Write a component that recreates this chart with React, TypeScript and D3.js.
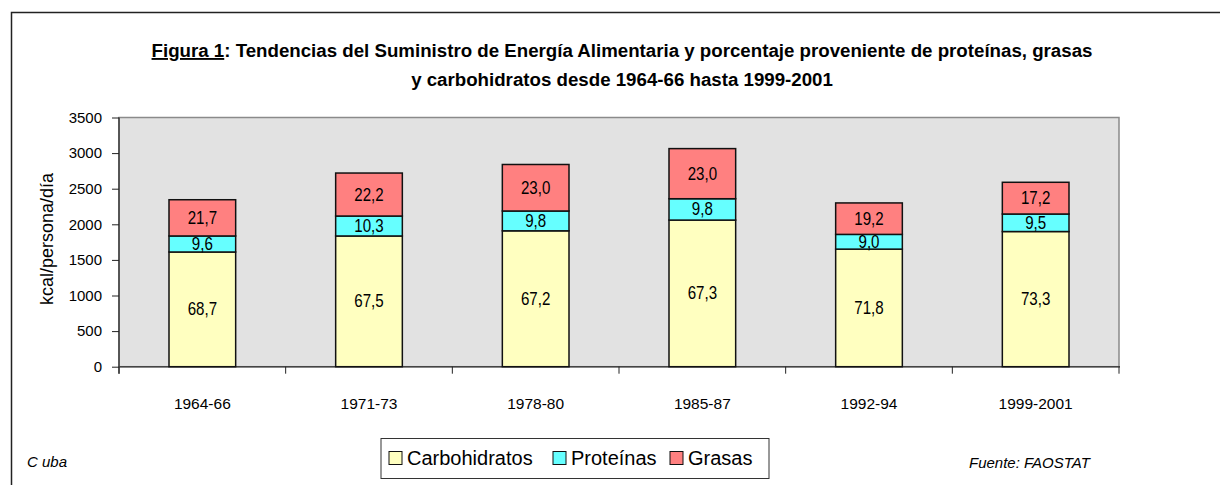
import React, { useEffect, useRef } from 'react';
import * as d3 from 'd3';

const periods = ['1964-66', '1971-73', '1978-80', '1985-87', '1992-94', '1999-2001'];
// total energy supply (kcal/persona/día)
const totals = [2345, 2720, 2840, 3060, 2300, 2590];
// share of energy (%) per source
const carbs = [68.7, 67.5, 67.2, 67.3, 71.8, 73.3];
const proteins = [9.6, 10.3, 9.8, 9.8, 9.0, 9.5];
const fats = [21.7, 22.2, 23.0, 23.0, 19.2, 17.2];
const yTicks = [0, 500, 1000, 1500, 2000, 2500, 3000, 3500];

const seriesNames = ['Carbohidratos', 'Proteínas', 'Grasas'];
const seriesColors = ['#ffffc0', '#66ffff', '#ff8080'];

const W = 1220;
const H = 485;
const sans = '"Liberation Sans", Arial, sans-serif';

const App: React.FC = () => {
  const svgRef = useRef<SVGSVGElement | null>(null);

  useEffect(() => {
    const svg = d3.select(svgRef.current);
    svg.selectAll('*').remove();

    const plot = { left: 119, right: 1119, top: 117.5, bottom: 366.7 };

    const x = d3.scaleBand<string>().domain(periods).range([plot.left, plot.right]).paddingInner(0.6).paddingOuter(0.3);
    const y = d3.scaleLinear().domain([0, 3500]).range([plot.bottom, plot.top]);

    // outer frame
    svg.append('rect')
      .attr('x', 11.5).attr('y', 12.5).attr('width', W).attr('height', H)
      .attr('fill', 'none').attr('stroke', '#222').attr('stroke-width', 1.5);

    // title
    const title = svg.append('text')
      .attr('text-anchor', 'middle')
      .attr('font-family', sans).attr('font-weight', 'bold').attr('font-size', 18.7)
      .attr('fill', '#000');
    title.append('tspan').attr('x', 622).attr('y', 57)
      .attr('text-decoration', 'underline').text('Figura 1');
    title.append('tspan')
      .text(':  Tendencias del Suministro de Energía Alimentaria y porcentaje proveniente de proteínas, grasas');
    title.append('tspan').attr('x', 622).attr('y', 86)
      .text('y carbohidratos desde 1964-66 hasta 1999-2001');

    // plot area
    svg.append('rect')
      .attr('x', plot.left).attr('y', plot.top)
      .attr('width', plot.right - plot.left).attr('height', plot.bottom - plot.top)
      .attr('fill', '#e2e2e2').attr('stroke', '#8a8a8a').attr('stroke-width', 1.5);

    // y axis
    const yAxis = svg.append('g').attr('transform', `translate(${plot.left},0)`)
      .call(d3.axisLeft(y).tickValues(yTicks).tickSize(7).tickPadding(10).tickFormat(d3.format('d')));
    yAxis.select('.domain').attr('stroke', '#222').attr('stroke-width', 1.2)
      .attr('d', `M0,${plot.top}V${plot.bottom + 7}`);
    yAxis.selectAll('.tick line').attr('stroke', '#222');
    yAxis.selectAll('text').attr('font-family', sans).attr('font-size', 15).attr('fill', '#000');

    // x axis with ticks at category boundaries
    const step = x.step();
    const boundaries = d3.range(periods.length + 1).map((i) => plot.left + i * step);
    svg.append('line')
      .attr('x1', plot.left).attr('x2', plot.right + 1)
      .attr('y1', plot.bottom).attr('y2', plot.bottom)
      .attr('stroke', '#444').attr('stroke-width', 1.5);
    svg.append('g').selectAll('line').data(boundaries).join('line')
      .attr('x1', (d) => d).attr('x2', (d) => d)
      .attr('y1', plot.bottom).attr('y2', plot.bottom + 7)
      .attr('stroke', '#222');
    svg.append('g').selectAll('text').data(periods).join('text')
      .attr('x', (d) => (x(d) as number) + x.bandwidth() / 2)
      .attr('y', 409)
      .attr('text-anchor', 'middle')
      .attr('font-family', sans).attr('font-size', 15.5).attr('fill', '#000')
      .text((d) => d);

    // y axis title
    svg.append('text')
      .attr('transform', 'translate(53,239) rotate(-90)')
      .attr('text-anchor', 'middle')
      .attr('font-family', sans).attr('font-size', 18).attr('fill', '#000')
      .text('kcal/persona/día');

    // stacked bars
    const shares = [carbs, proteins, fats];
    const rows = periods.map((p, i) => {
      let base = 0;
      return shares.map((s, k) => {
        const v = (totals[i] * s[i]) / 100;
        const seg = { period: p, k, y0: base, y1: base + v, pct: s[i] };
        base += v;
        return seg;
      });
    }).flat();

    const bars = svg.append('g');
    bars.selectAll('rect').data(rows).join('rect')
      .attr('x', (d) => x(d.period) as number)
      .attr('width', x.bandwidth())
      .attr('y', (d) => y(d.y1))
      .attr('height', (d) => y(d.y0) - y(d.y1))
      .attr('fill', (d) => seriesColors[d.k])
      .attr('stroke', '#111').attr('stroke-width', 1.5);

    bars.selectAll('text').data(rows).join('text')
      .attr('transform', (d) =>
        `translate(${(x(d.period) as number) + x.bandwidth() / 2},${(y(d.y0) + y(d.y1)) / 2 + 6}) scale(0.84,1)`)
      .attr('text-anchor', 'middle')
      .attr('font-family', sans).attr('font-size', 18).attr('fill', '#000')
      .text((d) => d3.format('.1f')(d.pct).replace('.', ','));

    // legend
    const lg = svg.append('g');
    lg.append('rect')
      .attr('x', 381).attr('y', 438.5).attr('width', 388).attr('height', 40)
      .attr('fill', '#fff').attr('stroke', '#333').attr('stroke-width', 1);
    const itemX = [389, 553, 670];
    seriesNames.forEach((name, i) => {
      lg.append('rect')
        .attr('x', itemX[i]).attr('y', 451.5).attr('width', 13).attr('height', 13)
        .attr('fill', seriesColors[i]).attr('stroke', '#111').attr('stroke-width', 1);
      lg.append('text')
        .attr('x', itemX[i] + 18).attr('y', 465)
        .attr('font-family', sans).attr('font-size', 20).attr('fill', '#000')
        .text(name);
    });

    // footnotes
    svg.append('text')
      .attr('x', 27).attr('y', 467)
      .attr('font-family', sans).attr('font-style', 'italic').attr('font-size', 15)
      .text('C uba');
    svg.append('text')
      .attr('x', 969).attr('y', 468)
      .attr('font-family', sans).attr('font-style', 'italic').attr('font-size', 15)
      .text('Fuente: FAOSTAT');
  }, []);

  return (
    <svg
      ref={svgRef}
      width={W}
      height={H}
      style={{ position: 'absolute', left: 0, top: 0, background: '#fff' }}
    />
  );
};

export default App;
